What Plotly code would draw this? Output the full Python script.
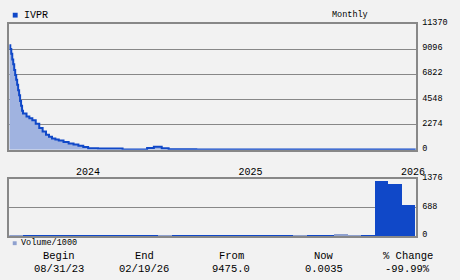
import plotly.graph_objects as go

# ---- data ----
# price: x in months since start of Sep 2023, y price
price_x = [0.0, 0.072, 0.145, 0.217, 0.289, 0.362, 0.434, 0.507, 0.579, 0.651, 0.724, 0.796, 0.868, 0.941,
           1.013, 1.27, 1.48, 1.70, 1.95, 2.21, 2.46, 2.71, 2.93, 3.15, 3.40, 3.65, 4.0, 4.38, 4.74, 5.1,
           5.46, 5.82, 6.55, 8.36, 10.17, 10.67, 11.25, 11.76, 13.8, 17.4, 21.0, 30.0]
price_y = [9475, 9140, 8700, 8180, 7740, 7220, 6780, 6340, 5900, 5380, 4940, 4420, 3980, 3540,
           3280, 3020, 2850, 2670, 2350, 1970, 1650, 1360, 1180, 1010, 920, 830, 700, 570, 460, 350,
           240, 130, 100, 20, 150, 260, 130, 40, 20, 10, 5, 0.0035]

# monthly volume /1000, Sep 2023 .. Feb 2026
vol_month = list(range(30))
vol_vals = [35] * 24 + [60, 35, 35, 1330, 1258, 753]
vol_up = [1, 0, 0, 0, 0, 0, 0, 0, 0, 0, 0, 1, 0, 0, 0, 0, 0, 0, 0, 0, 0, 1, 0, 0, 1, 1, 0, 0, 0, 0]

year_ticks = [5.8, 17.8, 29.8]
year_labels = ["2024", "2025", "2026"]
price_ticks = [0, 2274, 4548, 6822, 9096, 11370]
vol_ticks = [0, 688, 1376]

stats_head = ["Begin", "End", "From", "Now", "% Change"]
stats_val = ["08/31/23", "02/19/26", "9475.0", "0.0035", "-99.99%"]

# ---- style ----
BG = "#f2f2f2"
DARK = "#1048c8"
LIGHT = "#8fa1cf"
FILL = "#a0b3e0"
GRID = "#888888"
MONO = "Liberation Mono"

fig = go.Figure()
fig.add_trace(go.Scatter(x=price_x, y=price_y, mode="lines", line=dict(color=DARK, width=2, shape="hv"),
                         fill="tozeroy", fillcolor=FILL, xaxis="x", yaxis="y", showlegend=False))
fig.add_trace(go.Bar(x=[m + 0.5 for m in vol_month], y=vol_vals, width=1,
                     marker=dict(color=[LIGHT if u else DARK for u in vol_up], line=dict(width=0)),
                     xaxis="x2", yaxis="y2", showlegend=False))

W, H = 460, 280
xd = [9.5 / W, 424 / W]
fig.update_layout(
    width=W, height=H, margin=dict(l=0, r=0, t=0, b=0),
    paper_bgcolor=BG, plot_bgcolor=BG, bargap=0,
    font=dict(family=MONO, size=8, color="#000000"),
    xaxis=dict(domain=xd, range=[0, 30], tickvals=year_ticks, ticktext=year_labels, showgrid=False,
               zeroline=False, showline=True, mirror=True, linecolor=GRID, linewidth=1.5,
               ticks="outside", ticklen=12, tickcolor="rgba(0,0,0,0)",
               tickfont=dict(family=MONO, size=10), anchor="y"),
    yaxis=dict(domain=[(H - 149) / H, (H - 19) / H], range=[0, 11370], tickvals=price_ticks,
               ticktext=[str(v) for v in price_ticks], side="right", ticklabelstandoff=3, ticklabelshift=-2,
               showgrid=True, gridcolor=GRID, gridwidth=1, zeroline=False, showline=True, mirror=True,
               linecolor=GRID, linewidth=1.5, ticks="", tickfont=dict(family=MONO, size=8.5), anchor="x"),
    xaxis2=dict(domain=xd, range=[0, 30], showticklabels=False, showgrid=False, zeroline=False,
                showline=True, mirror=True, linecolor=GRID, linewidth=1.5, anchor="y2"),
    yaxis2=dict(domain=[(H - 239) / H, (H - 179) / H], range=[0, 1376], tickvals=vol_ticks,
                ticktext=[str(v) for v in vol_ticks], side="right", ticklabelstandoff=3, ticklabelshift=-2,
                showgrid=True, gridcolor=GRID, gridwidth=1, zeroline=False, showline=True, mirror=True,
                linecolor=GRID, linewidth=1.5, ticks="", tickfont=dict(family=MONO, size=8.5), anchor="x2"),
)

shapes = [
    dict(type="rect", xref="paper", yref="paper", x0=13 / W, x1=18 / W, y0=(H - 12) / H, y1=(H - 7) / H,
         fillcolor=DARK, line=dict(width=0)),
    dict(type="rect", xref="paper", yref="paper", x0=13 / W, x1=17 / W, y0=(H - 248) / H, y1=(H - 244) / H,
         fillcolor=LIGHT, line=dict(width=0)),
]
fig.update_layout(shapes=shapes)

P = dict(xref="paper", yref="paper", showarrow=False, yanchor="middle")
ann = [
    dict(x=22 / W, y=(H - 9.5) / H, text="IVPR", xanchor="left", font=dict(family=MONO, size=10), **P),
    dict(x=357 / W, y=(H - 9) / H, text="Monthly", xanchor="center", font=dict(family=MONO, size=8.5), **P),
    dict(x=19 / W, y=(H - 246) / H, text="Volume/1000", xanchor="left", font=dict(family=MONO, size=8.5), **P),
]
centers = [60, 147, 236, 330, 416]
for cx, h, v in zip(centers, stats_head, stats_val):
    ann.append(dict(x=cx / W, y=(H - 259) / H, text=h, xanchor="center", font=dict(family=MONO, size=10.5), **P))
    ann.append(dict(x=cx / W, y=(H - 273) / H, text=v, xanchor="center", font=dict(family=MONO, size=10.5), **P))
fig.update_layout(annotations=ann)

fig.write_html("out.html")
